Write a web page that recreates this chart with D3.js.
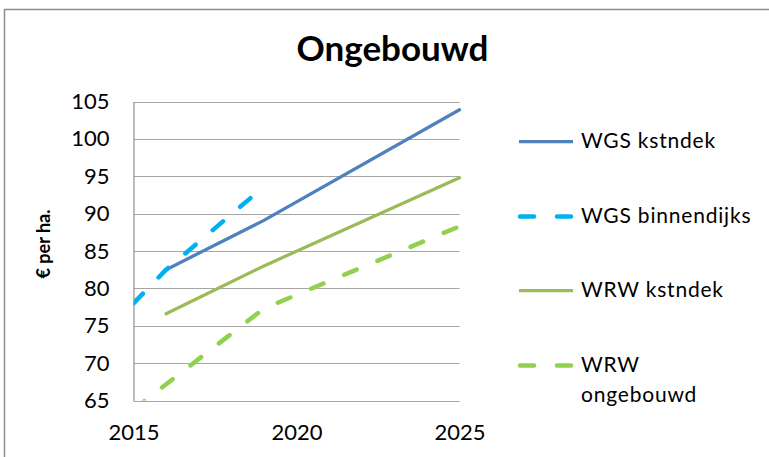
<!DOCTYPE html>
<html>
<head>
<meta charset="utf-8">
<script src="https://cdn.jsdelivr.net/npm/d3@7/dist/d3.min.js"></script>
<style>
  html, body { margin: 0; padding: 0; background: #fff; }
  svg { display: block; font-family: Lato, "Open Sans", sans-serif; }
</style>
</head>
<body>
<svg id="chart" width="769" height="457"></svg>
<script>
// Cost per hectare, undeveloped land (€ per ha.)
const title = "Ongebouwd";
const yLabel = "€ per ha.";
const yTicks = [65, 70, 75, 80, 85, 90, 95, 100, 105];
const xTicks = [2015, 2020, 2025];

const wgsKstndekYears = [2016, 2019, 2025];
const wgsKstndekValues = [82.5, 89.1, 103.9];

const wgsBinnendijksYears = [2015, 2016, 2019];
const wgsBinnendijksValues = [78.0, 82.5, 93.6];

const wrwKstndekYears = [2016, 2019, 2025];
const wrwKstndekValues = [76.6, 83.0, 94.8];

const wrwOngebouwdYears = [2015, 2019, 2025];
const wrwOngebouwdValues = [63.8, 77.3, 88.3];

const series = [
  { name: ["WGS kstndek"], years: wgsKstndekYears, values: wgsKstndekValues, color: "#4F81BD", dashed: false },
  { name: ["WGS binnendijks"], years: wgsBinnendijksYears, values: wgsBinnendijksValues, color: "#00B0F0", dashed: true },
  { name: ["WRW kstndek"], years: wrwKstndekYears, values: wrwKstndekValues, color: "#9BBB59", dashed: false },
  { name: ["WRW", "ongebouwd"], years: wrwOngebouwdYears, values: wrwOngebouwdValues, color: "#92D050", dashed: true }
];

const svg = d3.select("#chart");

// outer chart frame
svg.append("path")
  .attr("d", "M4.5,457 L4.5,9.5 L769,9.5")
  .attr("fill", "none")
  .attr("stroke", "#8c8c8c")
  .attr("stroke-width", 1.5);

const x = d3.scaleLinear().domain([2015, 2025]).range([133.5, 459.5]);
const y = d3.scaleLinear().domain([65, 105]).range([400.5, 101.5]);

// title
svg.append("text")
  .attr("x", 392.5).attr("y", 61)
  .attr("text-anchor", "middle")
  .attr("font-size", 35).attr("font-weight", "bold")
  .attr("fill", "#000")
  .text(title);

// horizontal gridlines
svg.append("g")
  .selectAll("line")
  .data(yTicks)
  .join("line")
  .attr("x1", x(2015)).attr("x2", x(2025))
  .attr("y1", d => Math.round(y(d)) + 0.5).attr("y2", d => Math.round(y(d)) + 0.5)
  .attr("stroke", "#a6a6a6").attr("stroke-width", 1.2);

// y axis
const yAxis = svg.append("g")
  .attr("transform", `translate(${x(2015)},0)`)
  .call(d3.axisLeft(y).tickValues(yTicks).tickSize(0).tickPadding(24));
yAxis.select(".domain").attr("stroke", "#a6a6a6").attr("stroke-width", 1.5);
yAxis.selectAll("text").attr("font-size", 22).attr("font-family", "Lato, sans-serif").attr("fill", "#000");

// x axis labels
const xAxis = svg.append("g")
  .attr("transform", `translate(0,${y(65)})`)
  .call(d3.axisBottom(x).tickValues(xTicks).tickFormat(d3.format("d")).tickSize(0).tickPadding(24));
xAxis.select(".domain").remove();
xAxis.selectAll("text").attr("font-size", 22).attr("font-family", "Lato, sans-serif").attr("fill", "#000");

// y axis title
svg.append("text")
  .attr("transform", "translate(50,244) rotate(-90)")
  .attr("text-anchor", "middle")
  .attr("font-size", 18).attr("font-weight", "bold")
  .attr("fill", "#000")
  .text(yLabel);

// plot-area clip
svg.append("clipPath").attr("id", "plotClip")
  .append("rect")
  .attr("x", x(2015)).attr("y", y(105) - 5)
  .attr("width", x(2025) - x(2015) + 5).attr("height", y(65) - y(105) + 5);

const line = d3.line().x(d => x(d[0])).y(d => y(d[1]));

svg.append("g").attr("clip-path", "url(#plotClip)")
  .selectAll("path")
  .data(series)
  .join("path")
  .attr("d", s => line(s.years.map((yr, i) => [yr, s.values[i]])))
  .attr("fill", "none")
  .attr("stroke", s => s.color)
  .attr("stroke-width", s => s.dashed ? 4.5 : 3.25)
  .attr("stroke-linecap", "round")
  .attr("stroke-linejoin", "round")
  .attr("stroke-dasharray", s => s.dashed ? "13.5,22.5" : null);

// legend
const legendY = [141.5, 216.5, 290.5, 365.5];
const legend = svg.append("g");
series.forEach((s, i) => {
  const g = legend.append("g").attr("transform", `translate(0,${legendY[i]})`);
  g.append("line")
    .attr("x1", s.dashed ? 520 : 519).attr("x2", s.dashed ? 571 : 573)
    .attr("y1", 0).attr("y2", 0)
    .attr("stroke", s.color)
    .attr("stroke-width", s.dashed ? 4.5 : 3.25)
    .attr("stroke-linecap", s.dashed ? "round" : "butt")
    .attr("stroke-dasharray", s.dashed ? "14,23" : null);
  s.name.forEach((t, j) => {
    g.append("text")
      .attr("x", 581).attr("y", 6.5 + j * 30)
      .attr("font-size", 21)
      .attr("letter-spacing", 0.8)
      .attr("fill", "#000")
      .text(t);
  });
});
</script>
</body>
</html>
